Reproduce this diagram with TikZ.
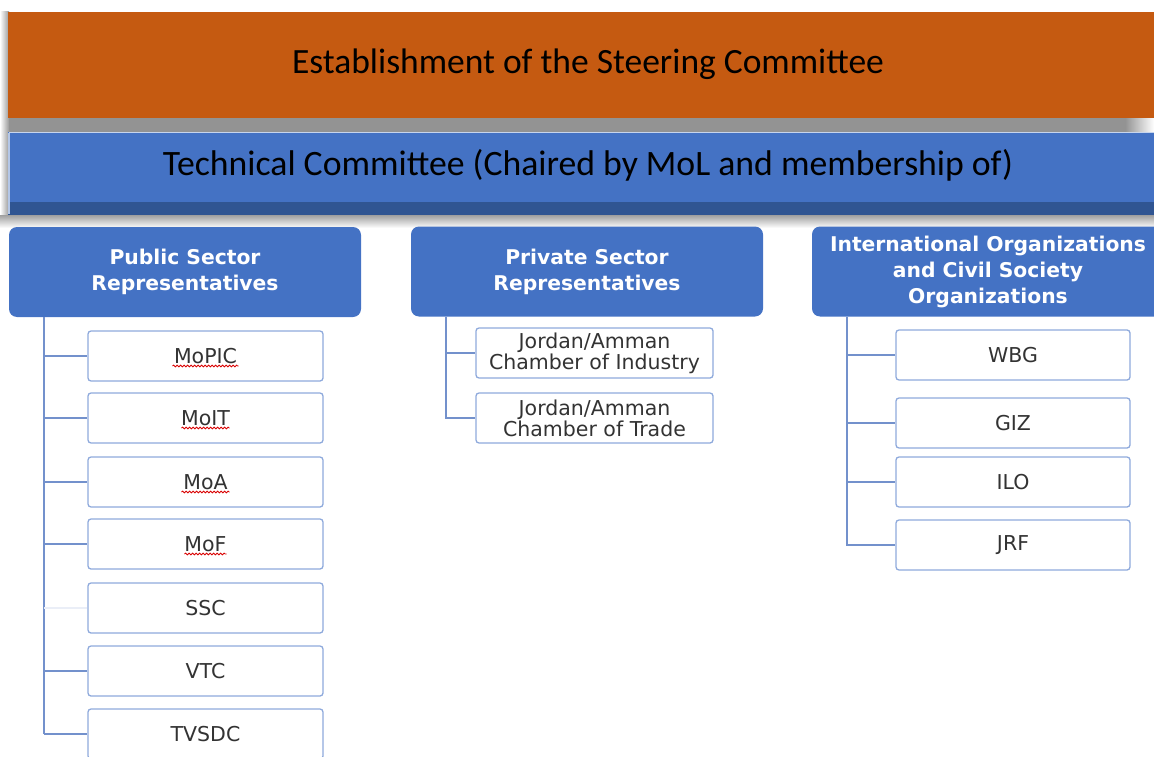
\documentclass[tikz,border=0pt]{standalone}
\usepackage{fontspec}
\setmainfont{Carlito}
\newfontfamily\boxfont{DejaVu Sans}
\usetikzlibrary{decorations.pathmorphing}
\definecolor{orangebar}{HTML}{C55A11}
\definecolor{bluebar}{HTML}{4472C4}
\definecolor{bluedark}{HTML}{305592}
\definecolor{boxline}{HTML}{8FAADC}
\definecolor{conn}{HTML}{7391CC}
\definecolor{boxtext}{HTML}{333333}
\tikzset{
  header/.style={fill=bluebar, rounded corners=8pt, minimum width=352pt, minimum height=90pt,
     text=white, align=center, font=\boxfont\bfseries\fontsize{20.3}{26}\selectfont, inner sep=0pt},
  member/.style={draw=boxline, line width=1.3pt, fill=white, rounded corners=3pt,
     minimum height=50pt, inner sep=0pt, text=boxtext, align=center,
     font=\boxfont\fontsize{20.5}{21}\selectfont},
  link/.style={draw=conn, line width=1.2pt},
  spell/.style={draw=red!85!black, line width=0.8pt, decorate,
     decoration={snake, amplitude=0.9pt, segment length=3.5pt}}
}
\begin{document}
\begin{tikzpicture}[x=1pt,y=-1pt]
\useasboundingbox (0,0) rectangle (1154,757);
% shadows
\shade[left color=white, right color=gray!80] (0,12) rectangle (9,215);
\fill[gray!85] (9,118) rectangle (1125,132);
\shade[left color=gray!85, right color=white] (1125,118) rectangle (1154,132);
\shade[top color=gray!75, bottom color=white] (0,215) rectangle (1154,228);
% bars
\node[fill=orangebar, minimum width=1146pt, minimum height=106pt, anchor=north west, inner sep=0pt] (steer) at (8,12) {};
\node[font=\fontsize{35.5}{40}\selectfont, text=black] at (588,64) {Establishment of the Steering Committee};
\fill[bluedark] (8,200) rectangle (1154,215);
\node[fill=bluebar, minimum width=1146pt, minimum height=70pt, anchor=north west, inner sep=0pt] (tech) at (8,132) {};
\draw[white!70!bluebar, line width=1pt] (8.5,132.5) -- (1154,132.5);
\draw[white!60!bluebar, line width=1.5pt] (9,133) -- (9,214);
\node[font=\fontsize{35.7}{40}\selectfont, text=black] at (588,165) {Technical Committee (Chaired by MoL and membership of)};
% headers
\node[header] (pub) at (185,272) {Public Sector\\Representatives};
\node[header] (priv) at (587,271.5) {Private Sector\\Representatives};
\node[header] (intl) at (988,271.5) {International Organizations\\and Civil Society\\Organizations};
% public members
\foreach \n/\t/\y in {mopic/MoPIC/356, moit/MoIT/418, moa/MoA/482, mof/MoF/544, ssc/SSC/608, vtc/VTC/671, tvsdc/TVSDC/734}{
  \node[member, minimum width=235pt] (\n) at (205.5,\y) {\t};
}
\coordinate (pubtrunk) at (44,317);
\coordinate (pubend) at (44,734);
\draw[link] (pubtrunk) -- (pubend);
\foreach \n in {mopic,moit,moa,mof,vtc,tvsdc}{
  \draw[link] (pubtrunk |- \n.west) -- (\n.west);
}
\draw[draw=conn!15, line width=1.2pt] (pubtrunk |- ssc.west) -- (ssc.west);
% spell marks
\foreach \n/\w in {mopic/33, moit/24, moa/24, mof/21}{
  \draw[spell] ([xshift=-\w pt, yshift=-10pt]\n.center) -- ([xshift=\w pt, yshift=-10pt]\n.center);
}
% private members
\node[member, minimum width=237pt] (jci) at (594.5,353) {Jordan/Amman\\Chamber of Industry};
\node[member, minimum width=237pt] (jct) at (594.5,418) {Jordan/Amman\\Chamber of Trade};
\coordinate (privtrunk) at (446,317);
\draw[link] (privtrunk) -- (privtrunk |- jct.west) -- (jct.west);
\draw[link] (privtrunk |- jci.west) -- (jci.west);
% international members
\foreach \n/\t/\y in {wbg/WBG/355, giz/GIZ/423, ilo/ILO/482, jrf/JRF/545}{
  \node[member, minimum width=234pt] (\n) at (1013,\y) {\t};
}
\coordinate (intltrunk) at (847,317);
\draw[link] (intltrunk) -- (intltrunk |- jrf.west) -- (jrf.west);
\foreach \n in {wbg,giz,ilo}{
  \draw[link] (intltrunk |- \n.west) -- (\n.west);
}
\end{tikzpicture}
\end{document}
